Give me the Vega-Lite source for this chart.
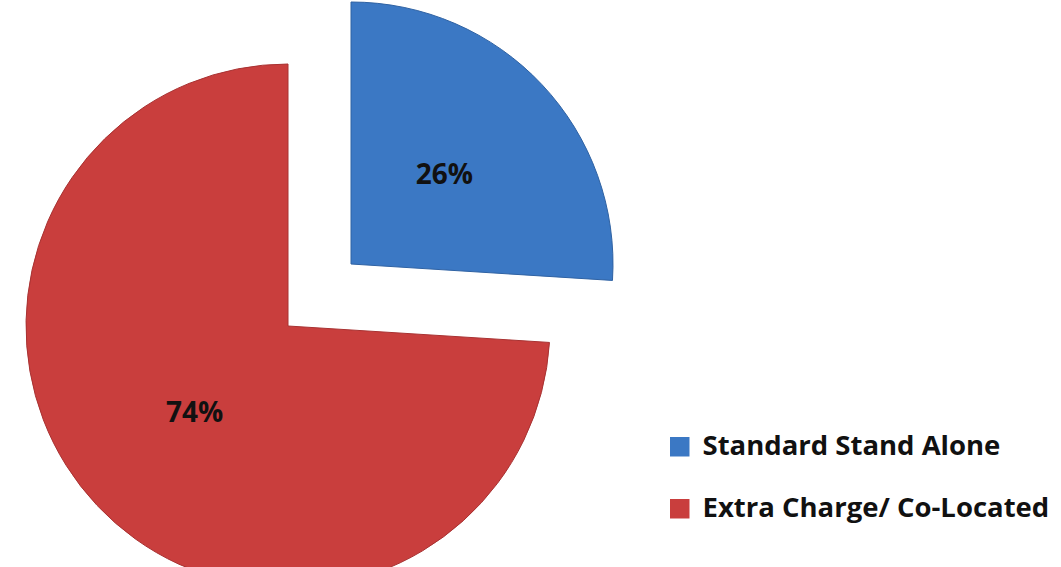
{
  "$schema": "https://vega.github.io/schema/vega-lite/v6.json",
  "width": 576,
  "height": 640,
  "padding": 0,
  "background": "white",
  "config": {"view": {"stroke": null}},
  "data": {
    "values": [
      {"category": "Standard Stand Alone", "share": 26, "label": "26%", "idx": 1},
      {"category": "Extra Charge/ Co-Located", "share": 74, "label": "74%", "idx": 2}
    ]
  },
  "encoding": {
    "theta": {"field": "share", "type": "quantitative", "stack": true},
    "order": {"field": "idx", "type": "quantitative"},
    "color": {
      "field": "category",
      "type": "nominal",
      "scale": {
        "domain": ["Standard Stand Alone", "Extra Charge/ Co-Located"],
        "range": ["#3b78c4", "#c93e3d"]
      },
      "legend": {
        "title": null,
        "orient": "none",
        "legendX": 666,
        "legendY": 427,
        "padding": 0,
        "symbolType": "square",
        "symbolSize": 380,
        "symbolStrokeWidth": 0,
        "labelFont": "Open Sans",
        "labelFontWeight": "bold",
        "labelFontSize": 27.5,
        "labelColor": "#111111",
        "labelOffset": 9,
        "rowPadding": 33,
        "labelLimit": 500
      }
    }
  },
  "layer": [
    {
      "mark": {"type": "arc", "radius": 262, "stroke": "#a83232", "strokeWidth": 1},
      "encoding": {
        "opacity": {"condition": {"test": "datum.category === 'Extra Charge/ Co-Located'", "value": 1}, "value": 0}
      }
    },
    {
      "mark": {"type": "arc", "radius": 262, "xOffset": 63, "yOffset": -62, "stroke": "#2f62a3", "strokeWidth": 1},
      "encoding": {
        "opacity": {"condition": {"test": "datum.category === 'Standard Stand Alone'", "value": 1}, "value": 0}
      }
    },
    {
      "mark": {"type": "text", "radius": 128, "font": "Open Sans", "fontWeight": "bold", "fontSize": 28},
      "encoding": {
        "text": {"field": "label"},
        "color": {"value": "#111111"},
        "opacity": {"condition": {"test": "datum.category === 'Extra Charge/ Co-Located'", "value": 1}, "value": 0}
      }
    },
    {
      "mark": {"type": "text", "radius": 128, "xOffset": 63, "yOffset": -62, "font": "Open Sans", "fontWeight": "bold", "fontSize": 28},
      "encoding": {
        "text": {"field": "label"},
        "color": {"value": "#111111"},
        "opacity": {"condition": {"test": "datum.category === 'Standard Stand Alone'", "value": 1}, "value": 0}
      }
    }
  ]
}
